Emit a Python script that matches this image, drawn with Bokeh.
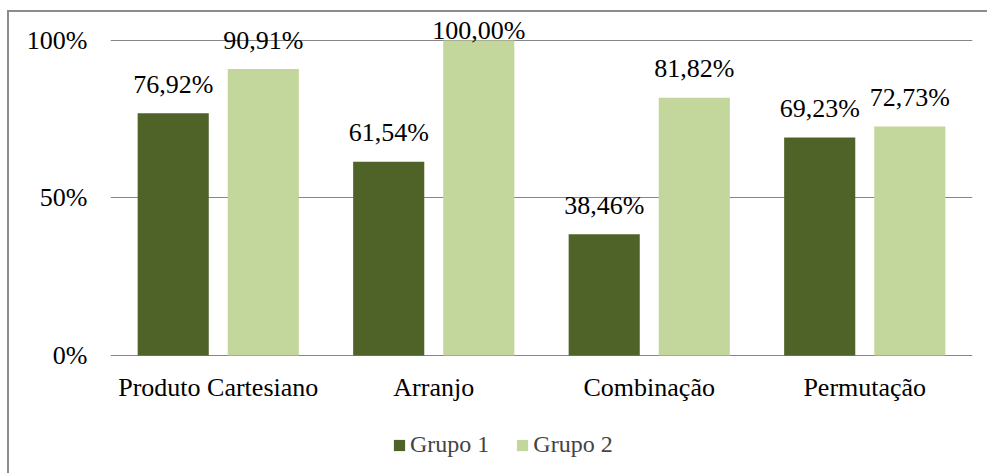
from bokeh.plotting import figure
from bokeh.models import ColumnDataSource, FactorRange, Range1d, FixedTicker, Legend, LegendItem
from bokeh.transform import dodge
from bokeh.embed import file_html
from bokeh.resources import INLINE
from bokeh.core.properties import value

categories = ["Produto Cartesiano", "Arranjo", "Combinação", "Permutação"]
grupo1 = [76.92, 61.54, 38.46, 69.23]
grupo2 = [90.91, 100.00, 81.82, 72.73]
series_names = ["Grupo 1", "Grupo 2"]
y_ticks = [0, 50, 100]

DARK = "#4F6228"
LIGHT = "#C3D69B"
FONT = "Liberation Serif"

def fmt(v):
    return f"{v:.2f}%".replace(".", ",")

def offs(vals):
    return [-10 if v >= 99.5 else -29 for v in vals]

src = ColumnDataSource(dict(
    cat=categories,
    g1=grupo1,
    g2=grupo2,
    l1=[fmt(v) for v in grupo1],
    l2=[fmt(v) for v in grupo2],
    o1=offs(grupo1),
    o2=offs(grupo2),
))

p = figure(
    x_range=FactorRange(*categories, range_padding=0),
    y_range=Range1d(-38.1, 108.25),
    width=980, height=463,
    output_backend="svg", toolbar_location=None,
    min_border_left=101, min_border_right=17,
    min_border_top=2, min_border_bottom=0,
    margin=(10, 0, 0, 7),
    styles={"border-left": "2px solid #8c8c8c", "border-top": "2px solid #8c8c8c"},
)
p.outline_line_color = None
p.background_fill_color = "white"
p.border_fill_color = "white"

off = 0.209
w = 0.33
r1 = p.vbar(x=dodge("cat", -off, range=p.x_range), top="g1", bottom=0, width=w, source=src,
            fill_color=DARK, line_color=None)
r2 = p.vbar(x=dodge("cat", off, range=p.x_range), top="g2", bottom=0, width=w, source=src,
            fill_color=LIGHT, line_color=None)

p.text(x=dodge("cat", -off, range=p.x_range), y="g1", text="l1", y_offset="o1", source=src,
       text_align="center", text_baseline="alphabetic", text_font=value(FONT),
       text_font_size="26px", text_color="black")
p.text(x=dodge("cat", off, range=p.x_range), y="g2", text="l2", y_offset="o2", source=src,
       text_align="center", text_baseline="alphabetic", text_font=value(FONT),
       text_font_size="26px", text_color="black")

p.xgrid.grid_line_color = None
p.ygrid.grid_line_color = "#868686"
p.ygrid.grid_line_width = 1
p.ygrid.ticker = FixedTicker(ticks=y_ticks)
p.yaxis.ticker = FixedTicker(ticks=y_ticks)
p.yaxis.major_label_overrides = {t: f"{t}%" for t in y_ticks}
p.xaxis.fixed_location = 0

for ax in (p.xaxis[0], p.yaxis[0]):
    ax.axis_line_color = None
    ax.major_tick_line_color = None
    ax.minor_tick_line_color = None
    ax.major_label_text_font = FONT
    ax.major_label_text_font_size = "26px"
    ax.major_label_text_color = "black"
p.yaxis.major_label_standoff = 17
p.xaxis.major_label_standoff = 12

legend = Legend(
    items=[LegendItem(label=series_names[0], renderers=[r1]),
           LegendItem(label=series_names[1], renderers=[r2])],
    orientation="horizontal",
    location=(282, 17),
    glyph_width=14, glyph_height=14,
    label_standoff=4, spacing=26,
    padding=0, margin=0,
    border_line_color=None, background_fill_alpha=0,
    label_text_font=FONT, label_text_font_size="24px",
)
p.add_layout(legend, "center")

open("out.html", "w").write(file_html(p, INLINE))
